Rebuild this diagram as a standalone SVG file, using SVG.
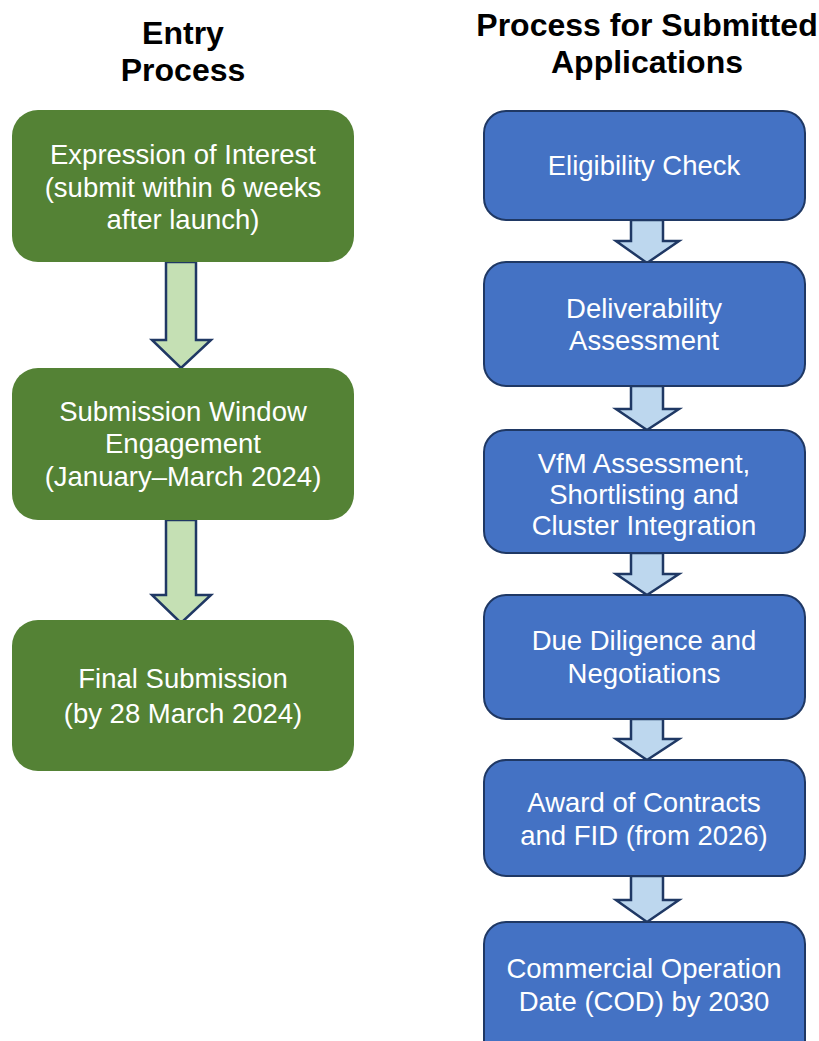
<svg xmlns="http://www.w3.org/2000/svg" width="819" height="1041" viewBox="0 0 819 1041">
<style>
.h{font-family:"Liberation Sans",Arial,sans-serif;font-weight:bold;font-size:32px;fill:#000;text-anchor:middle}
.t{font-family:"Liberation Sans",Arial,sans-serif;font-size:27.5px;fill:#fff;text-anchor:middle}
.g{fill:#548235}
.b{fill:#4472c4;stroke:#1f3864;stroke-width:2}
.ga{fill:#c5e0b4;stroke:#203864;stroke-width:2.5;stroke-linejoin:miter}
.ba{fill:#bdd7ee;stroke:#1f3864;stroke-width:2.5;stroke-linejoin:miter}
</style>
<rect width="819" height="1041" fill="#fff"/>
<g id="headings">
<text class="h" x="183" y="44">Entry</text>
<text class="h" x="183" y="81">Process</text>
<text class="h" x="647" y="36">Process for Submitted</text>
<text class="h" x="647" y="73">Applications</text>
</g>
<g id="connectors">
<path class="ga" d="M166,262 V340 H152 L181,368 L211,340 H196 V262 Z"/>
<path class="ga" d="M166,520 V595 H152 L181,623 L211,595 H196 V520 Z"/>
<path class="ba" d="M631,220 V241 H616 L647,263 L679,241 H663 V220 Z"/>
<path class="ba" d="M631,386 V409 H616 L647,430 L679,409 H663 V386 Z"/>
<path class="ba" d="M631,553 V574 H616 L647,595 L679,574 H663 V553 Z"/>
<path class="ba" d="M631,719 V739 H616 L647,760 L679,739 H663 V719 Z"/>
<path class="ba" d="M631,876 V900 H616 L647,922 L679,900 H663 V876 Z"/>
</g>
<g id="eoi">
<rect class="g" x="12" y="110" width="342" height="152" rx="26"/>
<text class="t" x="183" y="164">Expression of Interest</text>
<text class="t" x="183" y="197">(submit within 6 weeks</text>
<text class="t" x="183" y="229">after launch)</text>
</g>
<g id="window">
<rect class="g" x="12" y="368" width="342" height="152" rx="26"/>
<text class="t" x="183" y="421">Submission Window</text>
<text class="t" x="183" y="453">Engagement</text>
<text class="t" x="183" y="486">(January–March 2024)</text>
</g>
<g id="final">
<rect class="g" x="12" y="620" width="342" height="151" rx="26"/>
<text class="t" x="183" y="688">Final Submission</text>
<text class="t" x="183" y="723">(by 28 March 2024)</text>
</g>
<g id="eligibility">
<rect class="b" x="484" y="111" width="321" height="109" rx="22"/>
<text class="t" x="644" y="175">Eligibility Check</text>
</g>
<g id="deliverability">
<rect class="b" x="484" y="262" width="321" height="124" rx="22"/>
<text class="t" x="644" y="318">Deliverability</text>
<text class="t" x="644" y="350">Assessment</text>
</g>
<g id="vfm">
<rect class="b" x="484" y="430" width="321" height="123" rx="22"/>
<text class="t" x="644" y="473">VfM Assessment,</text>
<text class="t" x="644" y="504">Shortlisting and</text>
<text class="t" x="644" y="535">Cluster Integration</text>
</g>
<g id="duediligence">
<rect class="b" x="484" y="595" width="321" height="124" rx="22"/>
<text class="t" x="644" y="650">Due Diligence and</text>
<text class="t" x="644" y="683">Negotiations</text>
</g>
<g id="award">
<rect class="b" x="484" y="760" width="321" height="116" rx="22"/>
<text class="t" x="644" y="812">Award of Contracts</text>
<text class="t" x="644" y="845">and FID (from 2026)</text>
</g>
<g id="cod">
<rect class="b" x="484" y="922" width="321" height="140" rx="22"/>
<text class="t" x="644" y="978">Commercial Operation</text>
<text class="t" x="644" y="1011">Date (COD) by 2030</text>
</g>
</svg>
